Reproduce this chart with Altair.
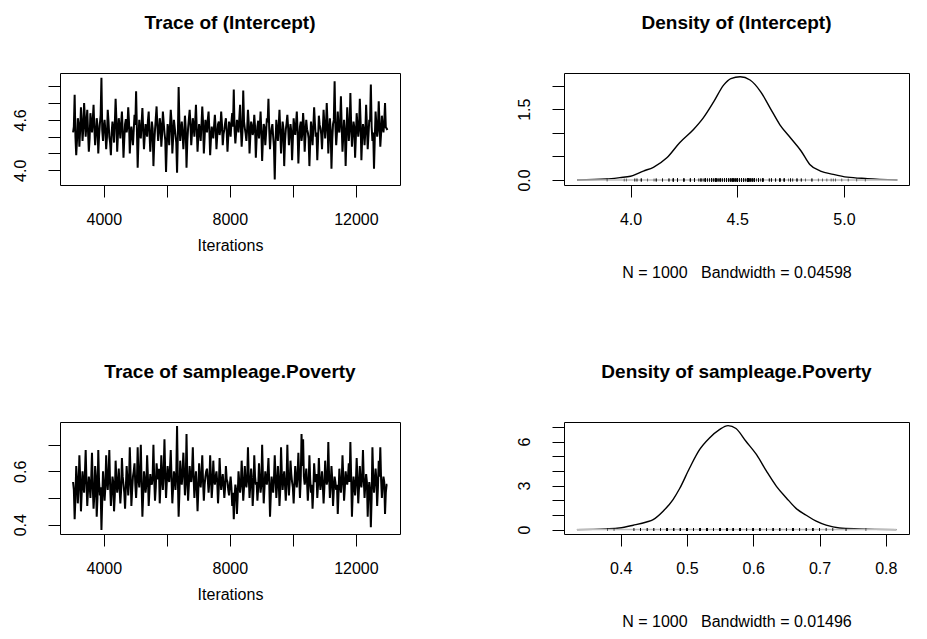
import altair as alt
import pandas as pd

# ---------------- data ----------------
iterations = list(range(3025, 13001, 25))  # 400 thinned iterations

intercept_trace = [
    4.45, 4.52, 4.90, 4.40, 4.18, 4.36, 4.62, 4.55, 4.28, 4.48, 4.75, 4.58, 4.35, 4.50, 4.80, 4.62, 4.40, 4.56, 4.72, 4.46,
    4.22, 4.38, 4.68, 4.57, 4.45, 4.60, 4.78, 4.50, 4.30, 4.44, 4.62, 4.53, 4.20, 4.41, 4.55, 4.66, 5.10, 4.48, 4.35, 4.52,
    4.60, 4.47, 4.25, 4.39, 4.72, 4.58, 4.40, 4.33, 4.18, 4.45, 4.58, 4.49, 4.33, 4.56, 4.85, 4.60, 4.22, 4.43, 4.62, 4.51,
    4.38, 4.55, 4.70, 4.46, 4.15, 4.37, 4.55, 4.61, 4.45, 4.52, 4.75, 4.57, 4.20, 4.42, 4.52, 4.40, 4.30, 4.48, 4.66, 4.54,
    4.94, 4.50, 4.03, 4.35, 4.60, 4.44, 4.38, 4.56, 4.74, 4.49, 4.25, 4.41, 4.55, 4.47, 4.40, 4.59, 4.70, 4.45, 4.22, 4.39,
    4.58, 4.50, 4.05, 4.32, 4.48, 4.62, 4.76, 4.53, 4.35, 4.46, 4.62, 4.55, 4.28, 4.43, 4.70, 4.57, 4.45, 4.36, 3.98, 4.30,
    4.55, 4.48, 4.30, 4.52, 4.72, 4.58, 4.20, 4.38, 4.60, 4.51, 4.42, 4.33, 3.97, 4.40, 4.99, 4.56, 4.35, 4.47, 4.58, 4.44,
    4.25, 4.42, 4.65, 4.50, 4.03, 4.34, 4.50, 4.61, 4.72, 4.55, 4.30, 4.45, 4.62, 4.53, 4.40, 4.58, 4.78, 4.49, 4.22, 4.40,
    4.55, 4.47, 4.35, 4.54, 4.76, 4.57, 4.20, 4.39, 4.60, 4.52, 4.45, 4.60, 4.70, 4.48, 4.18, 4.37, 4.52, 4.44, 4.38, 4.53,
    4.66, 4.50, 4.25, 4.41, 4.55, 4.58, 4.42, 4.49, 4.70, 4.55, 4.30, 4.43, 4.48, 4.56, 4.62, 4.47, 4.22, 4.40, 4.58, 4.51,
    4.40, 4.57, 4.68, 4.52, 4.96, 4.48, 4.32, 4.45, 4.60, 4.55, 4.45, 4.62, 4.78, 4.50, 4.28, 4.46, 4.95, 4.58, 4.50, 4.44,
    4.35, 4.49, 4.72, 4.56, 4.20, 4.40, 4.58, 4.53, 4.42, 4.47, 4.66, 4.52, 4.15, 4.38, 4.52, 4.59, 4.38, 4.50, 4.70, 4.46,
    4.11, 4.36, 4.55, 4.51, 4.30, 4.44, 4.62, 4.57, 4.85, 4.49, 4.25, 4.42, 4.50, 4.55, 4.40, 4.28, 3.89, 4.33, 4.60, 4.48,
    4.35, 4.52, 4.72, 4.47, 4.20, 4.39, 4.58, 4.50, 4.05, 4.34, 4.48, 4.56, 4.66, 4.51, 4.30, 4.43, 4.55, 4.46, 4.12, 4.37,
    4.62, 4.50, 4.42, 4.55, 4.70, 4.47, 4.08, 4.35, 4.52, 4.58, 4.35, 4.44, 4.68, 4.53, 4.22, 4.41, 4.60, 4.49, 4.45, 4.38,
    4.05, 4.33, 4.58, 4.46, 4.30, 4.52, 4.75, 4.56, 4.40, 4.45, 4.12, 4.37, 4.65, 4.54, 4.50, 4.43, 4.25, 4.48, 4.72, 4.55,
    4.38, 4.51, 4.80, 4.57, 4.20, 4.42, 4.62, 4.48, 4.02, 4.36, 4.55, 4.60, 5.06, 4.53, 4.30, 4.45, 4.70, 4.50, 4.45, 4.58,
    4.88, 4.52, 4.22, 4.41, 4.60, 4.47, 4.05, 4.38, 4.75, 4.56, 4.35, 4.49, 4.92, 4.55, 4.28, 4.44, 4.58, 4.51, 4.15, 4.40,
    4.68, 4.54, 4.40, 4.50, 4.85, 4.57, 4.12, 4.39, 4.55, 4.48, 4.30, 4.46, 4.78, 4.53, 4.25, 4.42, 4.60, 4.58, 5.02, 4.52,
    4.35, 4.45, 4.02, 4.38, 4.70, 4.55, 4.40, 4.49, 4.82, 4.56, 4.28, 4.44, 4.65, 4.53, 4.45, 4.57, 4.80, 4.51, 4.50, 4.48,
]

poverty_trace = [
    0.56, 0.53, 0.42, 0.50, 0.62, 0.57, 0.48, 0.54, 0.66, 0.58, 0.45, 0.52, 0.60, 0.55, 0.52, 0.59, 0.68, 0.56, 0.47, 0.53,
    0.58, 0.55, 0.50, 0.57, 0.67, 0.54, 0.46, 0.51, 0.62, 0.58, 0.43, 0.50, 0.68, 0.56, 0.51, 0.54, 0.38, 0.49, 0.60, 0.55,
    0.49, 0.54, 0.66, 0.57, 0.53, 0.59, 0.68, 0.55, 0.47, 0.52, 0.58, 0.56, 0.45, 0.51, 0.64, 0.57, 0.52, 0.55, 0.61, 0.54,
    0.48, 0.53, 0.65, 0.58, 0.55, 0.52, 0.46, 0.54, 0.62, 0.57, 0.51, 0.56, 0.69, 0.59, 0.47, 0.53, 0.58, 0.60, 0.63, 0.55,
    0.50, 0.56, 0.69, 0.58, 0.54, 0.60, 0.70, 0.55, 0.43, 0.51, 0.60, 0.57, 0.52, 0.55, 0.66, 0.58, 0.47, 0.53, 0.59, 0.56,
    0.55, 0.58, 0.70, 0.57, 0.49, 0.54, 0.63, 0.59, 0.57, 0.61, 0.48, 0.55, 0.66, 0.58, 0.53, 0.60, 0.72, 0.59, 0.50, 0.56,
    0.62, 0.58, 0.56, 0.61, 0.68, 0.57, 0.48, 0.54, 0.60, 0.58, 0.53, 0.59, 0.77, 0.57, 0.43, 0.52, 0.64, 0.58, 0.55, 0.60,
    0.67, 0.59, 0.51, 0.56, 0.74, 0.58, 0.49, 0.55, 0.62, 0.57, 0.56, 0.60, 0.69, 0.58, 0.50, 0.56, 0.60, 0.54, 0.45, 0.53,
    0.63, 0.57, 0.54, 0.59, 0.66, 0.56, 0.49, 0.55, 0.58, 0.60, 0.61, 0.57, 0.52, 0.56, 0.66, 0.58, 0.50, 0.55, 0.64, 0.57,
    0.55, 0.58, 0.60, 0.56, 0.48, 0.54, 0.65, 0.58, 0.53, 0.56, 0.59, 0.55, 0.50, 0.54, 0.62, 0.57, 0.56, 0.53, 0.51, 0.55,
    0.58, 0.54, 0.47, 0.52, 0.42, 0.50, 0.55, 0.53, 0.44, 0.51, 0.60, 0.56, 0.52, 0.55, 0.64, 0.57, 0.49, 0.54, 0.62, 0.56,
    0.54, 0.57, 0.69, 0.58, 0.50, 0.55, 0.61, 0.57, 0.47, 0.53, 0.66, 0.58, 0.55, 0.56, 0.49, 0.54, 0.63, 0.57, 0.52, 0.55,
    0.70, 0.58, 0.48, 0.54, 0.60, 0.57, 0.55, 0.59, 0.65, 0.56, 0.43, 0.51, 0.58, 0.55, 0.52, 0.57, 0.66, 0.58, 0.50, 0.55,
    0.62, 0.57, 0.47, 0.53, 0.69, 0.59, 0.53, 0.57, 0.60, 0.55, 0.49, 0.56, 0.70, 0.58, 0.51, 0.56, 0.64, 0.59, 0.56, 0.54,
    0.48, 0.55, 0.62, 0.57, 0.54, 0.59, 0.67, 0.58, 0.50, 0.57, 0.74, 0.62, 0.72, 0.58, 0.55, 0.57, 0.61, 0.56, 0.49, 0.55,
    0.66, 0.57, 0.52, 0.55, 0.46, 0.53, 0.63, 0.58, 0.56, 0.59, 0.50, 0.55, 0.65, 0.57, 0.53, 0.56, 0.60, 0.55, 0.48, 0.54,
    0.64, 0.58, 0.55, 0.57, 0.71, 0.58, 0.50, 0.55, 0.62, 0.57, 0.47, 0.53, 0.58, 0.56, 0.53, 0.55, 0.44, 0.52, 0.61, 0.56,
    0.52, 0.56, 0.66, 0.58, 0.49, 0.54, 0.60, 0.57, 0.55, 0.58, 0.63, 0.56, 0.71, 0.58, 0.43, 0.52, 0.58, 0.55, 0.51, 0.56,
    0.65, 0.57, 0.48, 0.54, 0.62, 0.56, 0.54, 0.58, 0.68, 0.57, 0.50, 0.55, 0.59, 0.56, 0.43, 0.52, 0.56, 0.53, 0.39, 0.50,
    0.69, 0.58, 0.52, 0.56, 0.61, 0.57, 0.47, 0.54, 0.64, 0.58, 0.69, 0.57, 0.50, 0.55, 0.58, 0.56, 0.44, 0.52, 0.55, 0.55,
]

dens_int_x = [3.75, 3.887, 3.95, 4.0, 4.06, 4.107, 4.17, 4.23, 4.295, 4.34,
              4.39, 4.436, 4.47, 4.514, 4.56, 4.61, 4.655, 4.70, 4.75, 4.80,
              4.84, 4.89, 4.95, 5.016, 5.11, 5.25]
dens_int_y = [0.0, 0.02, 0.05, 0.08, 0.19, 0.27, 0.47, 0.79, 1.07, 1.31,
              1.66, 2.01, 2.15, 2.19, 2.12, 1.87, 1.52, 1.17, 0.89, 0.61,
              0.33, 0.19, 0.12, 0.06, 0.03, 0.0]

dens_pov_x = [0.334, 0.378, 0.398, 0.419, 0.439, 0.449, 0.464, 0.479, 0.489, 0.504,
              0.519, 0.534, 0.549, 0.562, 0.574, 0.589, 0.605, 0.620, 0.635, 0.650,
              0.665, 0.680, 0.695, 0.710, 0.730, 0.760, 0.816]
dens_pov_y = [0.0, 0.05, 0.11, 0.30, 0.52, 0.68, 1.25, 2.05, 2.80, 4.20,
              5.45, 6.25, 6.82, 7.09, 6.89, 6.02, 5.11, 3.98, 2.95, 2.16,
              1.43, 0.98, 0.57, 0.30, 0.11, 0.05, 0.0]

NB = "\u00a0"
FONT = "Liberation Sans"
W_TRACE, W_DENS, H = 340, 345, 112


def title(text):
    return alt.TitleParams(text, fontSize=19, fontWeight="bold", font=FONT,
                           anchor="middle", offset=40, color="black")


def label_expr(shown):
    cond = " || ".join(f"abs(datum.value - {v}) < 1e-6" for v in shown)
    return f"({cond}) ? datum.label : ''"


def y_axis(values, shown, fmt):
    return alt.Axis(values=values, labelExpr=label_expr(shown), format=fmt,
                    labelAngle=-90, labelPadding=20, title=None)


def trace_panel(vals, ttl, ydom, yvals, yshown, yfmt):
    df = pd.DataFrame({"Iteration": iterations, "v": vals})
    return alt.Chart(df, title=title(ttl)).mark_line(
        color="black", strokeWidth=2.0
    ).encode(
        x=alt.X("Iteration:Q",
                scale=alt.Scale(domain=[2610, 13400], nice=False, zero=False),
                axis=alt.Axis(values=[4000, 6000, 8000, 10000, 12000], format="d",
                              labelExpr=label_expr([4000, 8000, 12000]),
                              title="Iterations", titlePadding=10)),
        y=alt.Y("v:Q", scale=alt.Scale(domain=ydom, nice=False, zero=False),
                axis=y_axis(yvals, yshown, yfmt)),
    ).properties(width=W_TRACE, height=H)


def dens_panel(dx, dy, samples, ttl, xtitle, xdom, xvals, xfmt, ydom, yvals, yshown, yfmt):
    ddf = pd.DataFrame({"x": dx, "y": dy})
    sdf = pd.DataFrame({"x": samples})
    xscale = alt.Scale(domain=xdom, nice=False, zero=False)
    xaxis = alt.Axis(values=xvals, format=xfmt, title=xtitle, titlePadding=37)
    yscale = alt.Scale(domain=ydom, nice=False, zero=False)
    yaxis = y_axis(yvals, yshown, yfmt)
    xenc = alt.X("x:Q", scale=xscale, axis=xaxis)
    yenc = alt.Y("y:Q", scale=yscale, axis=yaxis)
    y0 = alt.YDatum(0, type="quantitative", scale=yscale, axis=yaxis)
    line = alt.Chart(ddf).mark_line(color="black", strokeWidth=1.4,
                                    interpolate="monotone").encode(x=xenc, y=yenc)
    zero = alt.Chart(ddf).mark_line(color="#BEBEBE", strokeWidth=1.5).encode(
        x=xenc, y=y0)
    rug = alt.Chart(sdf).mark_tick(color="black", size=3, thickness=0.8,
                                    orient="vertical").encode(x=xenc, y=y0)
    return alt.layer(line, zero, rug, title=title(ttl)).properties(width=W_DENS, height=H)


p1 = trace_panel(intercept_trace, "Trace of (Intercept)", [3.825, 5.158],
                 [4.0, 4.2, 4.4, 4.6, 4.8, 5.0], [4.0, 4.6], ".1f")
p2 = dens_panel(dens_int_x, dens_int_y, intercept_trace, "Density of (Intercept)",
                f"N = 1000{NB*3}Bandwidth = 0.04598", [3.688, 5.305], [4.0, 4.5, 5.0], ".1f",
                [-0.106, 2.268], [0.0, 0.5, 1.0, 1.5, 2.0], [0.0, 1.5], ".1f")
p3 = trace_panel(poverty_trace, "Trace of sampleage.Poverty", [0.365, 0.785],
                 [0.4, 0.5, 0.6, 0.7], [0.4, 0.6], ".1f")
p4 = dens_panel(dens_pov_x, dens_pov_y, poverty_trace, "Density of sampleage.Poverty",
                f"N = 1000{NB*3}Bandwidth = 0.01496", [0.3145, 0.835], [0.4, 0.5, 0.6, 0.7, 0.8], ".1f",
                [-0.3, 7.335], [0, 1, 2, 3, 4, 5, 6, 7], [0, 3, 6], "d")

chart = alt.concat(p1, p2, p3, p4, columns=2, bounds="flush",
                   spacing={"row": 237, "column": 164}).configure(
    font=FONT, padding={"left": 3, "top": 5, "right": 5, "bottom": 5}, background="white"
).configure_view(
    stroke="black", strokeWidth=1
).configure_axis(
    labelFont=FONT, titleFont=FONT, labelFontSize=16, titleFontSize=16,
    titleFontWeight="normal", labelColor="black", titleColor="black",
    tickColor="black", tickSize=12, tickWidth=1, domain=False, grid=False,
    labelPadding=14, labelFlush=False, labelOverlap=False
)

chart.save("out.html", embed_options={"renderer": "svg", "actions": False})
